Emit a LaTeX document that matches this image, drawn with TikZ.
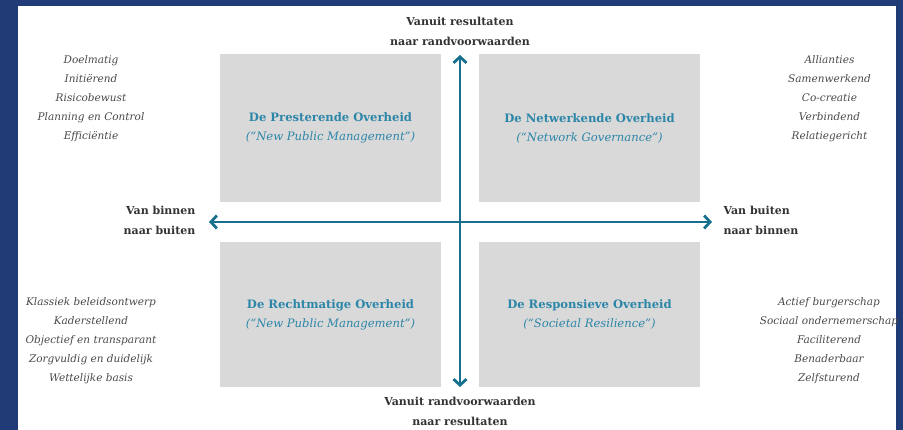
\documentclass[tikz,border=0pt]{standalone}
\usepackage{fontspec}
\setmainfont{DejaVu Serif}
\usetikzlibrary{arrows.meta,positioning}

\definecolor{frameblue}{HTML}{213B77}
\definecolor{fieldgrey}{HTML}{D9D9D9}
\definecolor{axisteal}{HTML}{16708E}
\definecolor{titleteal}{HTML}{2C86A8}
\definecolor{listgrey}{HTML}{4A4A4A}
\definecolor{labeldark}{HTML}{333333}

\begin{document}
\begin{tikzpicture}[x=1pt,y=-1pt,
	quadrant/.style={
		% The field:
		rectangle,
		minimum width=221pt,
		minimum height=148pt,
		fill=fieldgrey,
		% The text:
		align=center,
		text=titleteal,
		font=\fontsize{11.6}{19}\selectfont
		},
	traits/.style={
		align=center,
		text=listgrey,
		font=\fontsize{10.5}{19}\selectfont\itshape
		},
	direction/.style={
		text=labeldark,
		font=\fontsize{11}{20}\selectfont\bfseries
		},
	axis/.style={
		draw=axisteal,
		line width=2.8pt,
		{Straight Barb[length=6pt,width=13pt]}-{Straight Barb[length=6pt,width=13pt]}
		}]

	% frame and page
	\fill[frameblue] (0,0) rectangle (903,430);
	\fill[white] (18,6) rectangle (896,430);
	\useasboundingbox (0,0) rectangle (903,430);

	% the four fields
	\node (presterend) [quadrant] at (330.5,128) {\textbf{De Presterende Overheid}\\\textit{(``New Public Management'')}};
	\node (netwerkend) [quadrant] at (589.5,128) {\textbf{De Netwerkende Overheid}\\\textit{(``Network Governance'')}};
	\node (rechtmatig) [quadrant,minimum height=145pt] at (330.5,314.5) {\textbf{De Rechtmatige Overheid}\\\textit{(``New Public Management'')}};
	\node (responsief) [quadrant,minimum height=145pt] at (589.5,314.5) {\textbf{De Responsieve Overheid}\\\textit{(``Societal Resilience'')}};

	% the axes
	\coordinate (north) at (460,55);
	\coordinate (south) at (460,387);
	\coordinate (west) at (209,222);
	\coordinate (east) at (712,222);
	\draw[axis] (north) -- (south);
	\draw[axis] (west) -- (east);

	% directions
	\node (up) [direction,align=center] at (460,31) {Vanuit resultaten\\naar randvoorwaarden};
	\node (down) [direction,align=center] at (460,411) {Vanuit randvoorwaarden\\naar resultaten};
	\node (inout) [direction,align=right,anchor=east] at (199,220) {Van binnen\\naar buiten};
	\node (outin) [direction,align=left,anchor=west] at (720,220) {Van buiten\\naar binnen};

	% traits per field
	\node (traitsPO) [traits] at (91,99) {Doelmatig\\Initiërend\\Risicobewust\\Planning en Control\\Efficiëntie};
	\node (traitsNO) [traits] at (829.5,99) {Allianties\\Samenwerkend\\Co-creatie\\Verbindend\\Relatiegericht};
	\node (traitsRO) [traits] at (91,341) {Klassiek beleidsontwerp\\Kaderstellend\\Objectief en transparant\\Zorgvuldig en duidelijk\\Wettelijke basis};
	\node (traitsSO) [traits] at (829,341) {Actief burgerschap\\Sociaal ondernemerschap\\Faciliterend\\Benaderbaar\\Zelfsturend};

\end{tikzpicture}
\end{document}
